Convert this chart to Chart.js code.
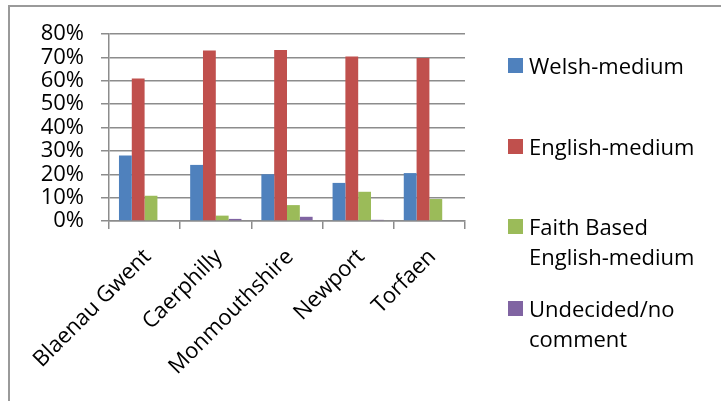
<!DOCTYPE html>
<html>
<head>
<meta charset="utf-8">
<script src="https://cdn.jsdelivr.net/npm/chart.js@4/dist/chart.umd.min.js"></script>
<style>
  body { margin: 0; background: #fff; }
  #wrap { position: relative; width: 721px; height: 401px; overflow: hidden; }
  #frame { position: absolute; left: 8px; top: 5px; width: 800px; height: 500px;
           border-left: 2px solid #9a9a9a; border-top: 2px solid #9a9a9a; }
  #chart { position: absolute; left: 0; top: 0; }
  #legend { position: absolute; left: 508px; top: 0; font-family: "Open Sans", sans-serif;
            font-size: 22px; color: #000; }
  .item { position: absolute; left: 0; white-space: nowrap; line-height: 30px; }
  .box { position: absolute; left: 0; width: 15px; height: 15px; }
  .txt { position: absolute; left: 21px; }
</style>
</head>
<body>
<div id="wrap">
  <div id="frame"></div>
  <canvas id="chart" width="721" height="401"></canvas>
  <div id="legend"></div>
</div>
<script>
/* --------------- Data --------------------- */
const areas = ["Blaenau Gwent", "Caerphilly", "Monmouthshire", "Newport", "Torfaen"];
const welshMedium = [28, 24, 20, 16.3, 20.5];
const englishMedium = [61, 72.9, 73.2, 70.4, 69.7];
const faithBased = [10.8, 2.3, 6.8, 12.5, 9.4];
const undecided = [0, 0.9, 1.8, 0.5, 0];
const seriesNames = ["Welsh-medium", "English-medium", ["Faith Based", "English-medium"], ["Undecided/no", "comment"]];
const seriesColors = ["#4F81BD", "#C0504D", "#9BBB59", "#8064A2"];
const yTicks = [0, 10, 20, 30, 40, 50, 60, 70, 80];

const seriesValues = [welshMedium, englishMedium, faithBased, undecided];
const gridColor = "#8c8c8c";
const font = { family: "'Open Sans', sans-serif", size: 22 };

/* --------------- Chart --------------------- */
new Chart(document.getElementById("chart"), {
  type: "bar",
  data: {
    labels: areas,
    datasets: seriesValues.map((vals, i) => ({
      label: [].concat(seriesNames[i]).join(" "),
      data: vals,
      backgroundColor: seriesColors[i],
      borderWidth: 0,
      categoryPercentage: 0.72,
      barPercentage: 1,
    })),
  },
  options: {
    responsive: false,
    animation: false,
    layout: { padding: { top: 34, right: 256, left: 0, bottom: 0 } },
    plugins: { legend: { display: false }, tooltip: { enabled: false } },
    scales: {
      x: {
        afterFit: (s) => { s.height = 180; },
        grid: { drawOnChartArea: false, drawTicks: true, tickLength: 8, color: gridColor, lineWidth: 1.5 },
        border: { color: gridColor, width: 1.5 },
        ticks: { color: "#000", font: font, minRotation: 45, maxRotation: 45, autoSkip: false,
                 padding: 15, labelOffset: 3 },
      },
      y: {
        min: 0,
        max: 80,
        afterFit: (s) => { s.width = 109; },
        afterBuildTicks: (s) => { s.ticks = yTicks.map((v) => ({ value: v })); },
        grid: { color: gridColor, lineWidth: 1.5, tickLength: 8 },
        border: { color: gridColor, width: 1.5 },
        ticks: { color: "#000", font: font, padding: 17, autoSkip: false, callback: (v) => v + "%" },
      },
    },
  },
});

/* --------------- Legend --------------------- */
const legendTops = [50, 131, 211, 293];
const legend = document.getElementById("legend");
seriesNames.forEach((name, i) => {
  const item = document.createElement("div");
  item.className = "item";
  item.style.top = legendTops[i] + "px";
  item.innerHTML = `<div class="box" style="top:8px;background:${seriesColors[i]}"></div>` +
    `<div class="txt">${[].concat(name).join("<br>")}</div>`;
  legend.appendChild(item);
});
</script>
</body>
</html>
